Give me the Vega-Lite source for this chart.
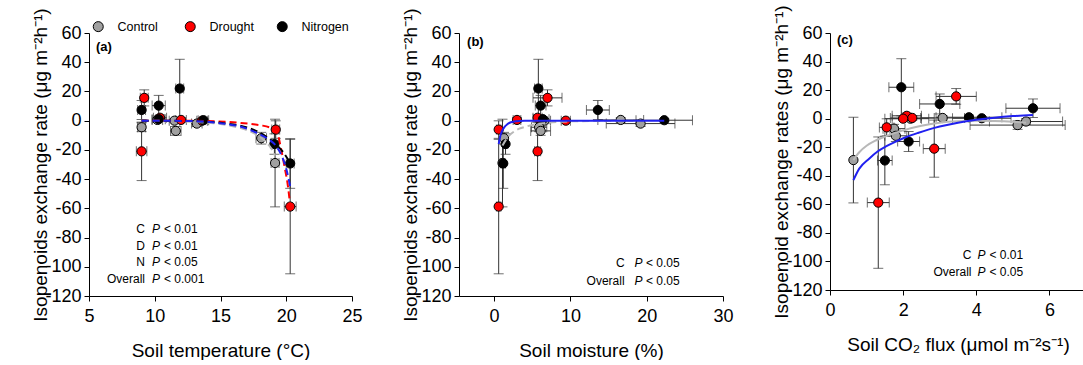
{
  "$schema": "https://vega.github.io/schema/vega-lite/v6.json",
  "background": "white",
  "padding": {"left": 31, "top": 4, "right": 0, "bottom": 0},
  "bounds": "flush",
  "spacing": 107,
  "config": {
    "font": "Liberation Sans",
    "view": {"stroke": null},
    "axis": {
      "grid": false,
      "domainColor": "#000",
      "tickColor": "#000",
      "labelColor": "#000",
      "titleColor": "#000",
      "labelFont": "Liberation Sans",
      "titleFont": "Liberation Sans",
      "labelFontSize": 18,
      "titleFontSize": 19,
      "titleFontWeight": "normal",
      "tickSize": 5,
      "labelFlush": false,
      "labelOverlap": false
    },
    "axisX": {"labelPadding": 6, "titlePadding": 16},
    "axisY": {"labelPadding": 3, "titlePadding": -6},
    "text": {"font": "Liberation Sans", "color": "#000"}
  },
  "datasets": {
    "points": [
      {"panel": "a", "group": "Control", "x": 10.2, "y": 0.5, "xerr": 0.4, "yerr": 1.5},
      {"panel": "a", "group": "Control", "x": 11.5, "y": 0, "xerr": 0.4, "yerr": 1},
      {"panel": "a", "group": "Control", "x": 13.2, "y": -2, "xerr": 0.4, "yerr": 2},
      {"panel": "a", "group": "Control", "x": 9.0, "y": -4.5, "xerr": 0.3, "yerr": 3},
      {"panel": "a", "group": "Control", "x": 11.6, "y": -7, "xerr": 0.4, "yerr": 3},
      {"panel": "a", "group": "Control", "x": 18.1, "y": -12, "xerr": 0.4, "yerr": 4},
      {"panel": "a", "group": "Control", "x": 19.15, "y": -29, "xerr": 0.3, "yerr": 30},
      {"panel": "a", "group": "Drought", "x": 9.2, "y": 15.6, "xerr": 0.3, "yerr": 5.5},
      {"panel": "a", "group": "Drought", "x": 10.4, "y": 2, "xerr": 0.5, "yerr": 2},
      {"panel": "a", "group": "Drought", "x": 12.0, "y": 0.5, "xerr": 0.4, "yerr": 1.5},
      {"panel": "a", "group": "Drought", "x": 13.6, "y": 0, "xerr": 0.4, "yerr": 1},
      {"panel": "a", "group": "Drought", "x": 19.2, "y": -6.1, "xerr": 0.3, "yerr": 6},
      {"panel": "a", "group": "Drought", "x": 9.0, "y": -21, "xerr": 0.4, "yerr": 20},
      {"panel": "a", "group": "Drought", "x": 20.3, "y": -58.8, "xerr": 0.45, "yerr": 46},
      {"panel": "a", "group": "Nitrogen", "x": 11.9, "y": 22, "xerr": 0.3, "yerr": 20},
      {"panel": "a", "group": "Nitrogen", "x": 10.3, "y": 10.3, "xerr": 0.5, "yerr": 7},
      {"panel": "a", "group": "Nitrogen", "x": 9.0, "y": 7.3, "xerr": 0.3, "yerr": 6.5},
      {"panel": "a", "group": "Nitrogen", "x": 10.3, "y": 1, "xerr": 0.5, "yerr": 1.5},
      {"panel": "a", "group": "Nitrogen", "x": 13.7, "y": 0.3, "xerr": 0.4, "yerr": 1},
      {"panel": "a", "group": "Nitrogen", "x": 19.1, "y": -16, "xerr": 0.3, "yerr": 7},
      {"panel": "a", "group": "Nitrogen", "x": 20.3, "y": -29.3, "xerr": 0.3, "yerr": 17},

      {"panel": "b", "group": "Control", "x": 16.6, "y": 0.5, "xerr": 3.0, "yerr": 1.5},
      {"panel": "b", "group": "Control", "x": 6.6, "y": 0, "xerr": 0.8, "yerr": 1},
      {"panel": "b", "group": "Control", "x": 19.2, "y": -2, "xerr": 4.5, "yerr": 2},
      {"panel": "b", "group": "Control", "x": 5.9, "y": -4.5, "xerr": 1.0, "yerr": 3},
      {"panel": "b", "group": "Control", "x": 6.1, "y": -7, "xerr": 1.3, "yerr": 3},
      {"panel": "b", "group": "Control", "x": 1.3, "y": -12, "xerr": 0.3, "yerr": 4},
      {"panel": "b", "group": "Control", "x": 1.1, "y": -29, "xerr": 0.3, "yerr": 30},
      {"panel": "b", "group": "Drought", "x": 7.0, "y": 15.6, "xerr": 1.9, "yerr": 5.5},
      {"panel": "b", "group": "Drought", "x": 5.7, "y": 2, "xerr": 0.6, "yerr": 2},
      {"panel": "b", "group": "Drought", "x": 3.0, "y": 0.5, "xerr": 0.5, "yerr": 1.5},
      {"panel": "b", "group": "Drought", "x": 9.4, "y": 0, "xerr": 0.6, "yerr": 1},
      {"panel": "b", "group": "Drought", "x": 0.6, "y": -6.1, "xerr": 0.3, "yerr": 6},
      {"panel": "b", "group": "Drought", "x": 5.7, "y": -21, "xerr": 0.4, "yerr": 20},
      {"panel": "b", "group": "Drought", "x": 0.6, "y": -58.8, "xerr": 0.3, "yerr": 46},
      {"panel": "b", "group": "Nitrogen", "x": 5.8, "y": 22, "xerr": 0.5, "yerr": 20},
      {"panel": "b", "group": "Nitrogen", "x": 6.1, "y": 10.3, "xerr": 0.7, "yerr": 7},
      {"panel": "b", "group": "Nitrogen", "x": 13.6, "y": 7.3, "xerr": 1.5, "yerr": 6.5},
      {"panel": "b", "group": "Nitrogen", "x": 6.4, "y": 1, "xerr": 0.8, "yerr": 1.5},
      {"panel": "b", "group": "Nitrogen", "x": 22.3, "y": 0.3, "xerr": 3.7, "yerr": 1},
      {"panel": "b", "group": "Nitrogen", "x": 1.5, "y": -16, "xerr": 0.3, "yerr": 7},
      {"panel": "b", "group": "Nitrogen", "x": 1.2, "y": -29.3, "xerr": 0.3, "yerr": 17},

      {"panel": "c", "group": "Control", "x": 3.08, "y": 0.5, "xerr": 0.6, "yerr": 1.5},
      {"panel": "c", "group": "Control", "x": 2.2, "y": 0, "xerr": 0.5, "yerr": 1},
      {"panel": "c", "group": "Control", "x": 5.36, "y": -2, "xerr": 1.0, "yerr": 2},
      {"panel": "c", "group": "Control", "x": 5.13, "y": -4.5, "xerr": 1.3, "yerr": 3},
      {"panel": "c", "group": "Control", "x": 1.75, "y": -7, "xerr": 0.3, "yerr": 3},
      {"panel": "c", "group": "Control", "x": 1.8, "y": -12, "xerr": 0.3, "yerr": 4},
      {"panel": "c", "group": "Control", "x": 0.64, "y": -29, "xerr": 0, "yerr": 30},
      {"panel": "c", "group": "Drought", "x": 3.45, "y": 15.6, "xerr": 0.55, "yerr": 5.5},
      {"panel": "c", "group": "Drought", "x": 2.1, "y": 2, "xerr": 0.4, "yerr": 2},
      {"panel": "c", "group": "Drought", "x": 2.25, "y": 0.5, "xerr": 0.6, "yerr": 1.5},
      {"panel": "c", "group": "Drought", "x": 2.0, "y": 0, "xerr": 0.5, "yerr": 1},
      {"panel": "c", "group": "Drought", "x": 1.55, "y": -6.1, "xerr": 0.2, "yerr": 6},
      {"panel": "c", "group": "Drought", "x": 2.85, "y": -21, "xerr": 0.3, "yerr": 20},
      {"panel": "c", "group": "Drought", "x": 1.32, "y": -58.8, "xerr": 0.3, "yerr": 46},
      {"panel": "c", "group": "Nitrogen", "x": 1.95, "y": 22, "xerr": 0.34, "yerr": 20},
      {"panel": "c", "group": "Nitrogen", "x": 3.0, "y": 10.3, "xerr": 0.55, "yerr": 7},
      {"panel": "c", "group": "Nitrogen", "x": 5.55, "y": 7.3, "xerr": 0.74, "yerr": 6.5},
      {"panel": "c", "group": "Nitrogen", "x": 3.8, "y": 1, "xerr": 0.9, "yerr": 1.5},
      {"panel": "c", "group": "Nitrogen", "x": 4.15, "y": 0.3, "xerr": 0.8, "yerr": 1},
      {"panel": "c", "group": "Nitrogen", "x": 2.15, "y": -16, "xerr": 0.3, "yerr": 7},
      {"panel": "c", "group": "Nitrogen", "x": 1.5, "y": -29.3, "xerr": 0.2, "yerr": 17}
    ],
    "fits": [
      {"panel": "a", "fit": "C", "x": 9.0, "y": 0},
      {"panel": "a", "fit": "C", "x": 11.0, "y": -0.2},
      {"panel": "a", "fit": "C", "x": 13.0, "y": -0.8},
      {"panel": "a", "fit": "C", "x": 14.5, "y": -1.8},
      {"panel": "a", "fit": "C", "x": 15.5, "y": -3},
      {"panel": "a", "fit": "C", "x": 16.5, "y": -5},
      {"panel": "a", "fit": "C", "x": 17.3, "y": -7.5},
      {"panel": "a", "fit": "C", "x": 17.9, "y": -10.5},
      {"panel": "a", "fit": "C", "x": 18.5, "y": -15},
      {"panel": "a", "fit": "C", "x": 18.9, "y": -19.5},
      {"panel": "a", "fit": "C", "x": 19.15, "y": -24},
      {"panel": "a", "fit": "D", "x": 9.0, "y": 0},
      {"panel": "a", "fit": "D", "x": 13.0, "y": -0.1},
      {"panel": "a", "fit": "D", "x": 14.5, "y": -0.4},
      {"panel": "a", "fit": "D", "x": 15.5, "y": -0.8},
      {"panel": "a", "fit": "D", "x": 16.5, "y": -1.5},
      {"panel": "a", "fit": "D", "x": 17.5, "y": -2.5},
      {"panel": "a", "fit": "D", "x": 18.2, "y": -3.4},
      {"panel": "a", "fit": "D", "x": 18.7, "y": -4.5},
      {"panel": "a", "fit": "D", "x": 19.0, "y": -5.5},
      {"panel": "a", "fit": "D", "x": 19.3, "y": -8},
      {"panel": "a", "fit": "D", "x": 19.6, "y": -19},
      {"panel": "a", "fit": "D", "x": 19.9, "y": -33},
      {"panel": "a", "fit": "D", "x": 20.1, "y": -43},
      {"panel": "a", "fit": "D", "x": 20.3, "y": -58},
      {"panel": "a", "fit": "N", "x": 9.0, "y": 0},
      {"panel": "a", "fit": "N", "x": 13.0, "y": -0.3},
      {"panel": "a", "fit": "N", "x": 14.5, "y": -1},
      {"panel": "a", "fit": "N", "x": 15.5, "y": -2},
      {"panel": "a", "fit": "N", "x": 16.5, "y": -3.5},
      {"panel": "a", "fit": "N", "x": 17.7, "y": -7},
      {"panel": "a", "fit": "N", "x": 18.5, "y": -11},
      {"panel": "a", "fit": "N", "x": 19.2, "y": -16},
      {"panel": "a", "fit": "N", "x": 19.8, "y": -22},
      {"panel": "a", "fit": "N", "x": 20.3, "y": -29},
      {"panel": "a", "fit": "Overall", "x": 9.0, "y": 0},
      {"panel": "a", "fit": "Overall", "x": 13.0, "y": -0.3},
      {"panel": "a", "fit": "Overall", "x": 14.5, "y": -1.2},
      {"panel": "a", "fit": "Overall", "x": 15.5, "y": -2.3},
      {"panel": "a", "fit": "Overall", "x": 16.5, "y": -4},
      {"panel": "a", "fit": "Overall", "x": 17.9, "y": -9},
      {"panel": "a", "fit": "Overall", "x": 18.7, "y": -13},
      {"panel": "a", "fit": "Overall", "x": 19.2, "y": -17},
      {"panel": "a", "fit": "Overall", "x": 19.7, "y": -25},
      {"panel": "a", "fit": "Overall", "x": 20.0, "y": -33},
      {"panel": "a", "fit": "Overall", "x": 20.3, "y": -45},

      {"panel": "b", "fit": "Overall", "x": 0.6, "y": -16},
      {"panel": "b", "fit": "Overall", "x": 0.75, "y": -12},
      {"panel": "b", "fit": "Overall", "x": 0.9, "y": -9},
      {"panel": "b", "fit": "Overall", "x": 1.1, "y": -6.5},
      {"panel": "b", "fit": "Overall", "x": 1.4, "y": -4},
      {"panel": "b", "fit": "Overall", "x": 1.75, "y": -2.4},
      {"panel": "b", "fit": "Overall", "x": 2.2, "y": -1.1},
      {"panel": "b", "fit": "Overall", "x": 2.85, "y": -0.4},
      {"panel": "b", "fit": "Overall", "x": 4.0, "y": -0.1},
      {"panel": "b", "fit": "Overall", "x": 6.0, "y": 0},
      {"panel": "b", "fit": "Overall", "x": 22.3, "y": 0},
      {"panel": "b", "fit": "C", "x": 1.1, "y": -17},
      {"panel": "b", "fit": "C", "x": 1.5, "y": -13.5},
      {"panel": "b", "fit": "C", "x": 2.0, "y": -10},
      {"panel": "b", "fit": "C", "x": 2.6, "y": -7.5},
      {"panel": "b", "fit": "C", "x": 3.3, "y": -5.5},
      {"panel": "b", "fit": "C", "x": 4.2, "y": -4},
      {"panel": "b", "fit": "C", "x": 5.3, "y": -2.6},
      {"panel": "b", "fit": "C", "x": 6.5, "y": -1.7},
      {"panel": "b", "fit": "C", "x": 7.7, "y": -1.1},
      {"panel": "b", "fit": "C", "x": 10.0, "y": -0.5},
      {"panel": "b", "fit": "C", "x": 14.0, "y": -0.2},
      {"panel": "b", "fit": "C", "x": 19.2, "y": 0},

      {"panel": "c", "fit": "C", "x": 0.64, "y": -29},
      {"panel": "c", "fit": "C", "x": 0.8, "y": -23.5},
      {"panel": "c", "fit": "C", "x": 1.0, "y": -19},
      {"panel": "c", "fit": "C", "x": 1.25, "y": -15.3},
      {"panel": "c", "fit": "C", "x": 1.5, "y": -12.6},
      {"panel": "c", "fit": "C", "x": 2.0, "y": -8.2},
      {"panel": "c", "fit": "C", "x": 2.5, "y": -5},
      {"panel": "c", "fit": "C", "x": 3.0, "y": -2.8},
      {"panel": "c", "fit": "C", "x": 3.5, "y": -1.8},
      {"panel": "c", "fit": "C", "x": 4.0, "y": -1.5},
      {"panel": "c", "fit": "C", "x": 4.5, "y": -1.7},
      {"panel": "c", "fit": "C", "x": 5.0, "y": -2.2},
      {"panel": "c", "fit": "C", "x": 5.36, "y": -2.8},
      {"panel": "c", "fit": "Overall", "x": 0.64, "y": -43},
      {"panel": "c", "fit": "Overall", "x": 0.8, "y": -35},
      {"panel": "c", "fit": "Overall", "x": 1.07, "y": -28},
      {"panel": "c", "fit": "Overall", "x": 1.3, "y": -23},
      {"panel": "c", "fit": "Overall", "x": 1.53, "y": -19.4},
      {"panel": "c", "fit": "Overall", "x": 1.8, "y": -16},
      {"panel": "c", "fit": "Overall", "x": 2.07, "y": -13},
      {"panel": "c", "fit": "Overall", "x": 2.4, "y": -10},
      {"panel": "c", "fit": "Overall", "x": 2.71, "y": -7.5},
      {"panel": "c", "fit": "Overall", "x": 3.0, "y": -5.5},
      {"panel": "c", "fit": "Overall", "x": 3.5, "y": -2.8},
      {"panel": "c", "fit": "Overall", "x": 4.0, "y": -0.8},
      {"panel": "c", "fit": "Overall", "x": 4.5, "y": 0.7},
      {"panel": "c", "fit": "Overall", "x": 5.0, "y": 1.8},
      {"panel": "c", "fit": "Overall", "x": 5.55, "y": 2.6}
    ]
  },
  "resolve": {"legend": {"fill": "independent"}},
  "hconcat": [
    {
      "width": 263,
      "height": 263,
      "layer": [
        {
          "encoding": {
            "x": {"field": "x", "type": "quantitative", "title": "Soil temperature (°C)",
                  "scale": {"domain": [5, 25], "nice": false, "zero": false},
                  "axis": {"values": [5, 10, 15, 20, 25]}},
            "y": {"field": "y", "type": "quantitative", "title": "Isopenoids exchange rate (μg m⁻²h⁻¹)",
                  "scale": {"domain": [-120, 60], "nice": false, "zero": false},
                  "axis": {"values": [-120, -100, -80, -60, -40, -20, 0, 20, 40, 60], "labelExpr": "replace(datum.label, '\u2212', '-')"}}
          },
          "layer": [
            {
              "data": {"name": "points"},
              "transform": [{"filter": "datum.panel === 'a'"}],
              "mark": {"type": "errorbar", "ticks": {"size": 10}, "color": "#333", "thickness": 1},
              "encoding": {"yError": {"field": "yerr"}}
            },
            {
              "data": {"name": "points"},
              "transform": [{"filter": "datum.panel === 'a'"}],
              "mark": {"type": "errorbar", "ticks": {"size": 10}, "color": "#333", "thickness": 1},
              "encoding": {"xError": {"field": "xerr"}}
            },
            {
              "data": {"name": "points"},
              "transform": [{"filter": "datum.panel === 'a'"}],
              "mark": {"type": "point", "shape": "circle", "filled": true, "size": 85, "stroke": "#000", "strokeWidth": 1, "opacity": 1},
              "encoding": {
                "fill": {"field": "group", "type": "nominal",
                         "scale": {"domain": ["Control", "Drought", "Nitrogen"], "range": ["#a0a0a0", "#ff0000", "#000000"]},
                         "legend": {"orient": "none", "legendX": 3, "legendY": -13, "direction": "horizontal", "columns": 3,
                                    "title": null, "labelFontSize": 12.5, "labelOffset": 13, "columnPadding": 18,
                                    "gridAlign": "all", "symbolType": "circle", "symbolSize": 100,
                                    "symbolStrokeColor": "#000", "symbolStrokeWidth": 1, "padding": 0}}
              }
            },
            {
              "data": {"name": "fits"},
              "transform": [{"filter": "datum.panel === 'a'"}],
              "mark": {"type": "line", "interpolate": "monotone", "strokeWidth": 2, "strokeDash": [7, 4]},
              "encoding": {
                "stroke": {"field": "fit", "type": "nominal",
                           "scale": {"domain": ["C", "D", "N", "Overall"], "range": ["#b8b8b8", "#ff0000", "#000000", "#2020f0"]},
                           "legend": null}
              }
            }
          ]
        },
        {
          "data": {"values": [{}]},
          "mark": {"type": "text", "align": "left", "baseline": "middle", "fontSize": 13, "fontWeight": "bold", "text": "(a)"},
          "encoding": {
            "x": {"datum": 5.53, "title": "Soil temperature (°C)", "axis": {"values": [5, 10, 15, 20, 25]}},
            "y": {"datum": 50.4, "title": "Isopenoids exchange rate (μg m⁻²h⁻¹)", "axis": {"values": [-120, -100, -80, -60, -40, -20, 0, 20, 40, 60], "labelExpr": "replace(datum.label, '\u2212', '-')"}}
          }
        },
        {
          "data": {"values": [{}]},
          "mark": {"type": "text", "align": "right", "baseline": "alphabetic", "fontSize": 12, "lineHeight": 16.5,
                   "text": ["C", "D", "N", "Overall"]},
          "encoding": {
            "x": {"datum": 9.26, "title": "Soil temperature (°C)", "axis": {"values": [5, 10, 15, 20, 25]}},
            "y": {"datum": -77.1, "title": "Isopenoids exchange rate (μg m⁻²h⁻¹)", "axis": {"values": [-120, -100, -80, -60, -40, -20, 0, 20, 40, 60], "labelExpr": "replace(datum.label, '\u2212', '-')"}}
          }
        },
        {
          "data": {"values": [{}]},
          "mark": {"type": "text", "align": "left", "baseline": "alphabetic", "fontSize": 12, "lineHeight": 16.5,
                   "fontStyle": "italic", "text": ["P", "P", "P", "P"]},
          "encoding": {
            "x": {"datum": 9.8, "title": "Soil temperature (°C)", "axis": {"values": [5, 10, 15, 20, 25]}},
            "y": {"datum": -77.1, "title": "Isopenoids exchange rate (μg m⁻²h⁻¹)", "axis": {"values": [-120, -100, -80, -60, -40, -20, 0, 20, 40, 60], "labelExpr": "replace(datum.label, '\u2212', '-')"}}
          }
        },
        {
          "data": {"values": [{}]},
          "mark": {"type": "text", "align": "left", "baseline": "alphabetic", "fontSize": 12, "lineHeight": 16.5,
                   "text": ["< 0.01", "< 0.01", "< 0.05", "< 0.001"]},
          "encoding": {
            "x": {"datum": 10.7, "title": "Soil temperature (°C)", "axis": {"values": [5, 10, 15, 20, 25]}},
            "y": {"datum": -77.1, "title": "Isopenoids exchange rate (μg m⁻²h⁻¹)", "axis": {"values": [-120, -100, -80, -60, -40, -20, 0, 20, 40, 60], "labelExpr": "replace(datum.label, '\u2212', '-')"}}
          }
        }
      ]
    },
    {
      "width": 264,
      "height": 263,
      "layer": [
        {
          "encoding": {
            "x": {"field": "x", "type": "quantitative", "title": "Soil moisture (%)",
                  "scale": {"domain": [-4.6, 30], "nice": false, "zero": false},
                  "axis": {"values": [0, 10, 20, 30]}},
            "y": {"field": "y", "type": "quantitative", "title": "Isopenoids exchange rate (μg m⁻²h⁻¹)",
                  "scale": {"domain": [-120, 60], "nice": false, "zero": false},
                  "axis": {"values": [-120, -100, -80, -60, -40, -20, 0, 20, 40, 60], "labelExpr": "replace(datum.label, '\u2212', '-')"}}
          },
          "layer": [
            {
              "data": {"name": "points"},
              "transform": [{"filter": "datum.panel === 'b'"}],
              "mark": {"type": "errorbar", "ticks": {"size": 10}, "color": "#333", "thickness": 1},
              "encoding": {"yError": {"field": "yerr"}}
            },
            {
              "data": {"name": "points"},
              "transform": [{"filter": "datum.panel === 'b'"}],
              "mark": {"type": "errorbar", "ticks": {"size": 10}, "color": "#333", "thickness": 1},
              "encoding": {"xError": {"field": "xerr"}}
            },
            {
              "data": {"name": "points"},
              "transform": [{"filter": "datum.panel === 'b'"}],
              "mark": {"type": "point", "shape": "circle", "filled": true, "size": 85, "stroke": "#000", "strokeWidth": 1, "opacity": 1},
              "encoding": {
                "fill": {"field": "group", "type": "nominal",
                         "scale": {"domain": ["Control", "Drought", "Nitrogen"], "range": ["#a0a0a0", "#ff0000", "#000000"]},
                         "legend": null}
              }
            },
            {
              "data": {"name": "fits"},
              "transform": [{"filter": "datum.panel === 'b' && datum.fit === 'C'"}],
              "mark": {"type": "line", "interpolate": "monotone", "strokeWidth": 2, "strokeDash": [7, 4]},
              "encoding": {
                "stroke": {"field": "fit", "type": "nominal",
                           "scale": {"domain": ["C", "D", "N", "Overall"], "range": ["#b8b8b8", "#ff0000", "#000000", "#2020f0"]},
                           "legend": null}
              }
            },
            {
              "data": {"name": "fits"},
              "transform": [{"filter": "datum.panel === 'b' && datum.fit === 'Overall'"}],
              "mark": {"type": "line", "interpolate": "monotone", "strokeWidth": 2},
              "encoding": {
                "stroke": {"field": "fit", "type": "nominal",
                           "scale": {"domain": ["C", "D", "N", "Overall"], "range": ["#b8b8b8", "#ff0000", "#000000", "#2020f0"]},
                           "legend": null}
              }
            }
          ]
        },
        {
          "data": {"values": [{}]},
          "mark": {"type": "text", "align": "left", "baseline": "middle", "fontSize": 13, "fontWeight": "bold", "text": "(b)"},
          "encoding": {
            "x": {"datum": -3.54, "title": "Soil moisture (%)", "axis": {"values": [0, 10, 20, 30]}},
            "y": {"datum": 53.9, "title": "Isopenoids exchange rate (μg m⁻²h⁻¹)", "axis": {"values": [-120, -100, -80, -60, -40, -20, 0, 20, 40, 60], "labelExpr": "replace(datum.label, '\u2212', '-')"}}
          }
        },
        {
          "data": {"values": [{}]},
          "mark": {"type": "text", "align": "right", "baseline": "alphabetic", "fontSize": 12, "lineHeight": 18,
                   "text": ["C", "Overall"]},
          "encoding": {
            "x": {"datum": 17.1, "title": "Soil moisture (%)", "axis": {"values": [0, 10, 20, 30]}},
            "y": {"datum": -100, "title": "Isopenoids exchange rate (μg m⁻²h⁻¹)", "axis": {"values": [-120, -100, -80, -60, -40, -20, 0, 20, 40, 60], "labelExpr": "replace(datum.label, '\u2212', '-')"}}
          }
        },
        {
          "data": {"values": [{}]},
          "mark": {"type": "text", "align": "left", "baseline": "alphabetic", "fontSize": 12, "lineHeight": 18,
                   "fontStyle": "italic", "text": ["P", "P"]},
          "encoding": {
            "x": {"datum": 18.4, "title": "Soil moisture (%)", "axis": {"values": [0, 10, 20, 30]}},
            "y": {"datum": -100, "title": "Isopenoids exchange rate (μg m⁻²h⁻¹)", "axis": {"values": [-120, -100, -80, -60, -40, -20, 0, 20, 40, 60], "labelExpr": "replace(datum.label, '\u2212', '-')"}}
          }
        },
        {
          "data": {"values": [{}]},
          "mark": {"type": "text", "align": "left", "baseline": "alphabetic", "fontSize": 12, "lineHeight": 18,
                   "text": ["< 0.05", "< 0.05"]},
          "encoding": {
            "x": {"datum": 19.9, "title": "Soil moisture (%)", "axis": {"values": [0, 10, 20, 30]}},
            "y": {"datum": -100, "title": "Isopenoids exchange rate (μg m⁻²h⁻¹)", "axis": {"values": [-120, -100, -80, -60, -40, -20, 0, 20, 40, 60], "labelExpr": "replace(datum.label, '\u2212', '-')"}}
          }
        }
      ]
    },
    {
      "width": 256,
      "height": 257,
      "layer": [
        {
          "encoding": {
            "x": {"field": "x", "type": "quantitative", "title": "Soil CO₂ flux (μmol m⁻²s⁻¹)",
                  "scale": {"domain": [0, 7], "nice": false, "zero": false},
                  "axis": {"values": [0, 2, 4, 6]}},
            "y": {"field": "y", "type": "quantitative", "title": "Isopenoid exchange rates (μg m⁻²h⁻¹)",
                  "scale": {"domain": [-120, 60], "nice": false, "zero": false},
                  "axis": {"values": [-120, -100, -80, -60, -40, -20, 0, 20, 40, 60], "labelExpr": "replace(datum.label, '\u2212', '-')"}}
          },
          "layer": [
            {
              "data": {"name": "points"},
              "transform": [{"filter": "datum.panel === 'c'"}],
              "mark": {"type": "errorbar", "ticks": {"size": 10}, "color": "#333", "thickness": 1},
              "encoding": {"yError": {"field": "yerr"}}
            },
            {
              "data": {"name": "points"},
              "transform": [{"filter": "datum.panel === 'c' && datum.xerr > 0"}],
              "mark": {"type": "errorbar", "ticks": {"size": 10}, "color": "#333", "thickness": 1},
              "encoding": {"xError": {"field": "xerr"}}
            },
            {
              "data": {"name": "points"},
              "transform": [{"filter": "datum.panel === 'c'"}],
              "mark": {"type": "point", "shape": "circle", "filled": true, "size": 85, "stroke": "#000", "strokeWidth": 1, "opacity": 1},
              "encoding": {
                "fill": {"field": "group", "type": "nominal",
                         "scale": {"domain": ["Control", "Drought", "Nitrogen"], "range": ["#a0a0a0", "#ff0000", "#000000"]},
                         "legend": null}
              }
            },
            {
              "data": {"name": "fits"},
              "transform": [{"filter": "datum.panel === 'c'"}],
              "mark": {"type": "line", "interpolate": "monotone", "strokeWidth": 2},
              "encoding": {
                "stroke": {"field": "fit", "type": "nominal",
                           "scale": {"domain": ["C", "D", "N", "Overall"], "range": ["#b8b8b8", "#ff0000", "#000000", "#4848e8"]},
                           "legend": null}
              }
            }
          ]
        },
        {
          "data": {"values": [{}]},
          "mark": {"type": "text", "align": "left", "baseline": "middle", "fontSize": 13, "fontWeight": "bold", "text": "(c)"},
          "encoding": {
            "x": {"datum": 0.19, "title": "Soil CO₂ flux (μmol m⁻²s⁻¹)", "axis": {"values": [0, 2, 4, 6]}},
            "y": {"datum": 55.3, "title": "Isopenoid exchange rates (μg m⁻²h⁻¹)", "axis": {"values": [-120, -100, -80, -60, -40, -20, 0, 20, 40, 60], "labelExpr": "replace(datum.label, '\u2212', '-')"}}
          }
        },
        {
          "data": {"values": [{}]},
          "mark": {"type": "text", "align": "right", "baseline": "alphabetic", "fontSize": 12, "lineHeight": 17.3,
                   "text": ["C", "Overall"]},
          "encoding": {
            "x": {"datum": 3.87, "title": "Soil CO₂ flux (μmol m⁻²s⁻¹)", "axis": {"values": [0, 2, 4, 6]}},
            "y": {"datum": -98.2, "title": "Isopenoid exchange rates (μg m⁻²h⁻¹)", "axis": {"values": [-120, -100, -80, -60, -40, -20, 0, 20, 40, 60], "labelExpr": "replace(datum.label, '\u2212', '-')"}}
          }
        },
        {
          "data": {"values": [{}]},
          "mark": {"type": "text", "align": "left", "baseline": "alphabetic", "fontSize": 12, "lineHeight": 17.3,
                   "fontStyle": "italic", "text": ["P", "P"]},
          "encoding": {
            "x": {"datum": 4.03, "title": "Soil CO₂ flux (μmol m⁻²s⁻¹)", "axis": {"values": [0, 2, 4, 6]}},
            "y": {"datum": -98.2, "title": "Isopenoid exchange rates (μg m⁻²h⁻¹)", "axis": {"values": [-120, -100, -80, -60, -40, -20, 0, 20, 40, 60], "labelExpr": "replace(datum.label, '\u2212', '-')"}}
          }
        },
        {
          "data": {"values": [{}]},
          "mark": {"type": "text", "align": "left", "baseline": "alphabetic", "fontSize": 12, "lineHeight": 17.3,
                   "text": ["< 0.01", "< 0.05"]},
          "encoding": {
            "x": {"datum": 4.36, "title": "Soil CO₂ flux (μmol m⁻²s⁻¹)", "axis": {"values": [0, 2, 4, 6]}},
            "y": {"datum": -98.2, "title": "Isopenoid exchange rates (μg m⁻²h⁻¹)", "axis": {"values": [-120, -100, -80, -60, -40, -20, 0, 20, 40, 60], "labelExpr": "replace(datum.label, '\u2212', '-')"}}
          }
        }
      ]
    }
  ]
}
